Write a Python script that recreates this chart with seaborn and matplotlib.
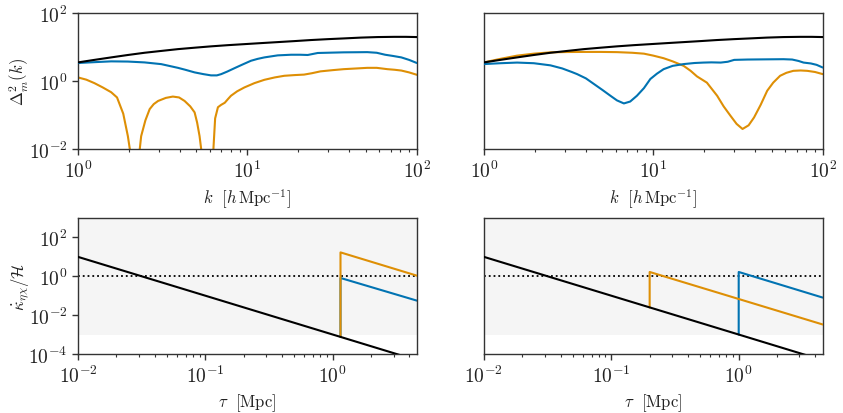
import numpy as np
import pandas as pd
import matplotlib
matplotlib.use("Agg")
import matplotlib.pyplot as plt
import matplotlib.ticker as mticker
import seaborn as sns

# ---------------- data ----------------
# top panels: Delta^2_m(k)
k_black = [1, 1.25, 1.57, 1.97, 2.47, 3.1, 3.89, 4.9, 6.1, 7.7, 9.6, 12.1, 15.1,
           19.0, 23.7, 29.8, 37.3, 46.8, 58.6, 73.6, 86, 100]
d_black = [3.54, 4.2, 4.97, 5.85, 6.8, 7.7, 8.7, 9.6, 10.5, 11.4, 12.2, 13.1, 14.0,
           15.0, 16.1, 17.1, 18.0, 19.0, 19.7, 20.0, 20.0, 19.7]

k_blue_L = [1, 1.25, 1.57, 1.97, 2.47, 3.1, 3.89, 4.3, 4.88, 5.5, 6.1, 6.6, 7.0, 7.6,
            8.4, 9.4, 10.5, 11.5, 12.6, 15.1, 18.1, 20.5, 22.7, 26, 31, 37, 44, 51,
            58, 65, 72, 81, 90, 100]
d_blue_L = [3.4, 3.6, 3.8, 3.75, 3.54, 3.15, 2.45, 2.15, 1.8, 1.6, 1.47, 1.47, 1.6, 1.9,
            2.4, 3.1, 3.96, 4.5, 4.97, 5.7, 5.95, 5.95, 5.85, 6.7, 6.85, 7.0, 7.05, 7.1,
            6.8, 5.95, 5.5, 4.97, 4.2, 3.4]

k_orng_L = [1, 1.12, 1.25, 1.4, 1.57, 1.7, 1.76, 1.85, 1.97, 2.08, 2.18, 2.27, 2.36,
            2.5, 2.65, 2.8, 2.97, 3.3, 3.63, 3.95, 4.26, 4.6, 4.88, 5.05, 5.22, 5.5,
            5.8, 6.1, 6.3, 6.45, 6.7, 7.0, 7.35, 7.7, 8.0, 8.7, 9.6, 11, 12.6, 14.5,
            16.5, 19, 21.6, 24, 27, 32, 37, 44, 51, 58, 67, 74, 81, 90, 100]
d_orng_L = [1.28, 1.1, 0.87, 0.65, 0.47, 0.33, 0.21, 0.11, 0.024, 0.004, 1e-4, 0.004,
            0.024, 0.07, 0.15, 0.21, 0.26, 0.32, 0.35, 0.33, 0.26, 0.18, 0.12, 0.06,
            0.024, 0.003, 1e-4, 1e-4, 0.01, 0.08, 0.17, 0.2, 0.23, 0.3, 0.37, 0.5, 0.65,
            0.87, 1.09, 1.28, 1.43, 1.5, 1.55, 1.7, 1.93, 2.1, 2.24, 2.35, 2.45, 2.45,
            2.24, 2.15, 2.04, 1.8, 1.53]

k_blue_R = [1, 1.25, 1.57, 1.97, 2.47, 2.9, 3.3, 3.55, 4.0, 4.46, 5.0, 5.58, 6.1, 6.7,
            7.3, 8.0, 8.8, 9.6, 10.5, 11.5, 13, 15.1, 17.5, 19.8, 22, 25, 27.5, 30,
            36, 45, 58.6, 66, 72, 77, 85, 92, 100]
d_blue_R = [3.16, 3.35, 3.5, 3.35, 2.9, 2.35, 1.85, 1.6, 1.2, 0.82, 0.55, 0.37, 0.27,
            0.22, 0.25, 0.37, 0.62, 1.15, 1.65, 2.24, 2.8, 3.16, 3.4, 3.5, 3.55, 3.5,
            3.7, 4.2, 4.3, 4.35, 4.4, 4.3, 3.9, 3.5, 3.3, 3.0, 2.5]

k_orng_R = [1, 1.25, 1.57, 1.97, 2.47, 3.1, 3.89, 4.9, 6.1, 7.5, 8.8, 10, 11.5, 13, 15.1,
            16.6, 18.1, 20.7, 23.8, 26, 28.5, 31, 33.6, 36.5, 39.3, 43, 47, 51, 56,
            61, 67, 74, 81, 90, 100]
d_orng_R = [3.54, 4.5, 5.6, 6.4, 7.0, 7.15, 7.2, 7.2, 7.1, 6.8, 6.4, 5.6, 4.7, 3.8, 2.8,
            2.0, 1.37, 0.9, 0.37, 0.18, 0.096, 0.055, 0.039, 0.05, 0.085, 0.2, 0.52,
            0.9, 1.43, 1.75, 2.0, 2.05, 2.0, 1.85, 1.6]

# bottom panels: kappa-dot / H
tau_black = [0.01, 1.15, 4.57]
kap_black = [10.0, 7.6e-4, 4.8e-5]

tau_orng_L = [1.15, 1.15, 4.57]
kap_orng_L = [7.6e-4, 17.0, 1.08]
tau_blue_L = [1.15, 1.15, 4.57]
kap_blue_L = [7.6e-4, 0.82, 0.056]

tau_orng_R = [0.2, 0.2, 4.57]
kap_orng_R = [0.025, 1.67, 3.3e-3]
tau_blue_R = [1.0, 1.0, 4.57]
kap_blue_R = [1.0e-3, 1.67, 0.08]

# ---------------- style ----------------
sns.set_theme(style="ticks")
plt.rcParams.update({
    "font.family": ["cmr10", "DejaVu Serif"],
    "mathtext.fontset": "cm",
    "axes.formatter.use_mathtext": True,
    "axes.unicode_minus": False,
    "axes.edgecolor": "#333333",
    "axes.linewidth": 1.0,
    "xtick.color": "#333333",
    "ytick.color": "#333333",
    "xtick.labelcolor": "#222222",
    "ytick.labelcolor": "#222222",
    "axes.labelcolor": "#222222",
})

BLUE = "#0173b2"
ORANGE = "#de8f05"
LW = 1.5

fig, axes = plt.subplots(2, 2, figsize=(8.43, 4.14), dpi=100)
fig.subplots_adjust(left=0.0925, right=0.976, top=0.966, bottom=0.1425,
                    wspace=0.198, hspace=0.507)


def line(ax, x, y, color, z=2, ls="-"):
    df = pd.DataFrame({"x": x, "y": y})
    sns.lineplot(data=df, x="x", y="y", ax=ax, color=color, lw=LW, estimator=None,
                 sort=False, zorder=z, ls=ls)


# top row
for ax, (kb, db, ko, do) in zip(axes[0], [(k_blue_L, d_blue_L, k_orng_L, d_orng_L),
                                          (k_blue_R, d_blue_R, k_orng_R, d_orng_R)]):
    ax.set_xscale("log")
    ax.set_yscale("log")
    line(ax, kb, db, BLUE, 3)
    line(ax, ko, do, ORANGE, 2)
    line(ax, k_black, d_black, "black", 4)
    ax.set_xlim(1, 100)
    ax.set_ylim(1e-2, 1e2)
    ax.set_xlabel(r"$k\ \ [h\,\mathrm{Mpc}^{-1}]$", fontsize=12)
    ax.set_ylabel("")
    ax.yaxis.set_major_locator(mticker.FixedLocator([1e-2, 1, 1e2]))
    ax.yaxis.set_minor_locator(mticker.NullLocator())
axes[0, 0].set_ylabel(r"$\Delta^2_m(k)$", fontsize=12)

# bottom row
for ax, (to, ko, tb, kb) in zip(axes[1], [(tau_orng_L, kap_orng_L, tau_blue_L, kap_blue_L),
                                          (tau_orng_R, kap_orng_R, tau_blue_R, kap_blue_R)]):
    ax.set_xscale("log")
    ax.set_yscale("log")
    ax.axhspan(1e-3, 1e3, color="#f5f5f5", zorder=0, lw=0)
    ax.axhline(1.0, color="black", ls=":", lw=1.3, zorder=1)
    line(ax, tb, kb, BLUE, 2)
    line(ax, to, ko, ORANGE, 3)
    line(ax, tau_black, kap_black, "black", 4)
    ax.set_xlim(0.01, 4.57)
    ax.set_ylim(1e-4, 1e3)
    ax.set_xlabel(r"$\tau\ \ [\mathrm{Mpc}]$", fontsize=12)
    ax.set_ylabel("")
    ax.yaxis.set_major_locator(mticker.FixedLocator([1e-4, 1e-2, 1, 1e2]))
    ax.yaxis.set_minor_locator(mticker.NullLocator())
axes[1, 0].set_ylabel(r"$\dot{\kappa}_{\eta\chi}/\mathcal{H}$", fontsize=12)

for ax in axes[:, 0]:
    ax.yaxis.set_label_coords(-0.14, 0.5)

for ax in axes.flat:
    ax.tick_params(axis="both", which="major", labelsize=14, length=4, width=1.0)
    ax.tick_params(axis="both", which="minor", length=2.5, width=0.8)
    for s in ax.spines.values():
        s.set_visible(True)
    ax.set_facecolor("white")

for ax in axes[:, 1]:
    ax.tick_params(axis="y", which="both", left=False, labelleft=False)

fig.savefig("out.png", dpi=100)
